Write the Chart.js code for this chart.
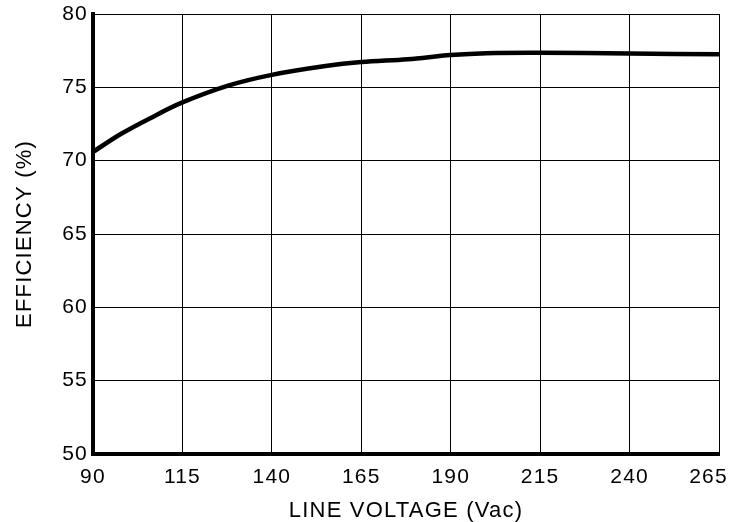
<!DOCTYPE html>
<html>
<head>
<meta charset="utf-8">
<script src="https://cdn.jsdelivr.net/npm/chart.js@4/dist/chart.umd.min.js"></script>
<style>
html,body{margin:0;padding:0;background:#fff;}
#wrap{width:732px;height:522px;position:relative;}
</style>
</head>
<body>
<div id="wrap"><canvas id="c" width="732" height="522"></canvas></div>
<script>
const lineVoltage = [90, 98, 106, 115, 128, 140, 155, 165, 178, 190, 200, 215, 240, 265];
const efficiency  = [70.6, 71.85, 72.9, 73.97, 75.13, 75.85, 76.45, 76.72, 76.92, 77.2, 77.33, 77.36, 77.3, 77.25];
const xTicks = [90, 115, 140, 165, 190, 215, 240, 265];
const yTicks = [50, 55, 60, 65, 70, 75, 80];
const xTitle = 'LINE VOLTAGE (Vac)';
const yTitle = 'EFFICIENCY (%)';

const points = lineVoltage.map((v, i) => ({x: v, y: efficiency[i]}));

const spacing = {
  id: 'spacing',
  beforeDraw(chart) { chart.ctx.letterSpacing = '1.2px'; }
};

const FONT = 'Liberation Sans, Arial, sans-serif';

new Chart(document.getElementById('c'), {
  type: 'scatter',
  data: {
    datasets: [{
      data: points,
      showLine: true,
      borderColor: '#000',
      borderWidth: 4.5,
      pointRadius: 0,
      tension: 0.35,
      fill: false
    }]
  },
  plugins: [spacing],
  options: {
    responsive: false,
    animation: false,
    devicePixelRatio: 1,
    layout: { padding: { top: 14, right: 13, left: 0, bottom: 0 } },
    plugins: { legend: { display: false }, tooltip: { enabled: false } },
    scales: {
      x: {
        type: 'linear',
        min: 90, max: 265,
        afterBuildTicks(s) { s.ticks = xTicks.map(v => ({value: v})); },
        afterFit(s) { s.height = 68; s.paddingLeft = 0; s.paddingRight = 0; },
        grid: { color: '#000', lineWidth: 1, drawTicks: false },
        border: { color: '#000', width: 4 },
        ticks: {
          color: '#000', padding: 11, maxRotation: 0,
          font: { family: FONT, size: 21 },
          callback: (v) => v === 265 ? '265\u00a0\u00a0\u00a0' : String(v)
        },
        title: { display: true, text: xTitle, color: '#000', padding: { top: 0, bottom: 0 },
                 font: { family: FONT, size: 22, lineHeight: 1.05 } }
      },
      y: {
        min: 50, max: 80,
        afterBuildTicks(s) { s.ticks = yTicks.map(v => ({value: v})); },
        afterFit(s) { s.width = 93; s.paddingTop = 0; s.paddingBottom = 0; },
        grid: { color: '#000', lineWidth: 1, drawTicks: false },
        border: { color: '#000', width: 4 },
        ticks: { color: '#000', padding: 5, font: { family: FONT, size: 21 } },
        title: { display: true, text: yTitle, color: '#000', padding: { top: 13, bottom: 0 },
                 font: { family: FONT, size: 22, lineHeight: 1.05 } }
      }
    }
  }
});
</script>
</body>
</html>
